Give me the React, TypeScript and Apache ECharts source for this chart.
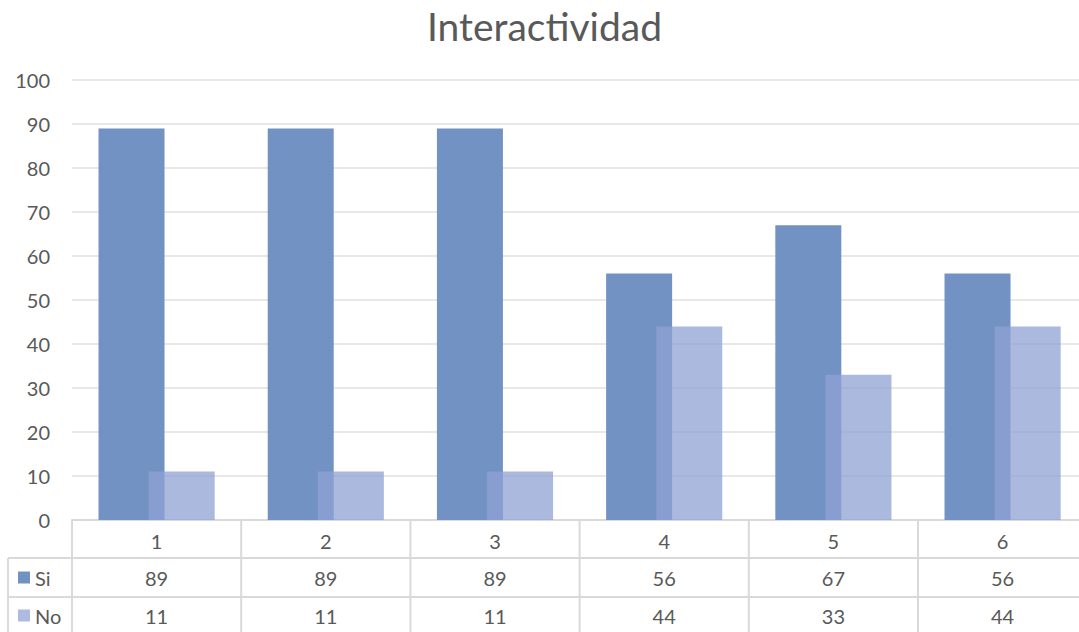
import React, { useEffect, useRef } from "react";
import * as echarts from "echarts";

const categories = ["1", "2", "3", "4", "5", "6"];
const siValues = [89, 89, 89, 56, 67, 56];
const noValues = [11, 11, 11, 44, 33, 44];
const seriesNames = ["Si", "No"];
const yTicks = { min: 0, max: 100, interval: 10 };
const titleText = "Interactividad";

const W = 1079;
const H = 632;
const GRID_LEFT = 72;
const GRID_TOP = 80;
const GRID_BOTTOM_Y = 520;
const CAT_W = 169.2;
const GRID_W = CAT_W * categories.length;
const CHART_W = GRID_LEFT + GRID_W + 10;
const ROW1 = 558;
const ROW2 = 597;
const TABLE_LEFT = 8;
const SI_COLOR = "#7292c3";
const NO_COLOR = "rgba(144,162,212,0.75)";
const NO_LEGEND = "#aebbe0";
const LINE = "#d9d9d9";
const TEXT = "#595959";
const FONT = "Lato, 'Open Sans', sans-serif";
const FS = 20;

export default function App() {
  const ref = useRef<HTMLDivElement>(null);
  useEffect(() => {
    if (!ref.current) return;
    const chart = echarts.init(ref.current, undefined, { renderer: "svg" });
    const graphics: any[] = [];
    [ROW1, ROW2].forEach((y) =>
      graphics.push({
        type: "line",
        shape: { x1: TABLE_LEFT, y1: y, x2: GRID_LEFT + GRID_W, y2: y },
        style: { stroke: LINE, lineWidth: 2 },
      })
    );
    graphics.push({
      type: "line",
      shape: { x1: TABLE_LEFT, y1: ROW1, x2: TABLE_LEFT, y2: H },
      style: { stroke: LINE, lineWidth: 2 },
    });
    for (let i = 0; i <= categories.length; i++) {
      const x = GRID_LEFT + i * CAT_W;
      graphics.push({
        type: "line",
        shape: { x1: x, y1: GRID_BOTTOM_Y, x2: x, y2: H },
        style: { stroke: LINE, lineWidth: 2 },
      });
    }
    const rows = [
      { name: seriesNames[0], vals: siValues, color: SI_COLOR, y: (ROW1 + ROW2) / 2 },
      { name: seriesNames[1], vals: noValues, color: NO_LEGEND, y: (ROW2 + H) / 2 + 1 },
    ];
    rows.forEach((r) => {
      graphics.push({
        type: "rect",
        shape: { x: 18, y: r.y - 6, width: 12, height: 12 },
        style: { fill: r.color },
      });
      graphics.push({
        type: "text",
        x: 35,
        y: r.y,
        style: { text: r.name, fill: TEXT, font: `${FS}px ${FONT}`, textVerticalAlign: "middle" },
      });
      r.vals.forEach((v, i) => {
        graphics.push({
          type: "text",
          x: GRID_LEFT + (i + 0.5) * CAT_W,
          y: r.y,
          style: {
            text: String(v),
            fill: TEXT,
            font: `${FS}px ${FONT}`,
            textAlign: "center",
            textVerticalAlign: "middle",
          },
        });
      });
    });

    chart.setOption({
      animation: false,
      title: {
        text: titleText,
        left: W / 2,
        textAlign: "center",
        top: 1,
        textStyle: { color: TEXT, fontSize: 39, fontWeight: "normal", fontFamily: FONT },
      },
      grid: { left: GRID_LEFT, top: GRID_TOP, width: GRID_W, height: GRID_BOTTOM_Y - GRID_TOP },
      xAxis: {
        type: "category",
        data: categories,
        axisLine: { lineStyle: { color: LINE, width: 2 } },
        axisTick: { show: false },
        axisLabel: { color: TEXT, fontSize: FS, fontFamily: FONT, margin: 11 },
      },
      yAxis: {
        type: "value",
        min: yTicks.min,
        max: yTicks.max,
        interval: yTicks.interval,
        axisLine: { show: false },
        axisTick: { show: false },
        axisLabel: { color: TEXT, fontSize: FS, fontFamily: FONT, margin: 22 },
        splitLine: { lineStyle: { color: "#e8e8e8", width: 2 } },
      },
      series: [
        {
          name: seriesNames[0],
          type: "bar",
          data: siValues,
          barWidth: 66,
          barGap: "-24%",
          itemStyle: { color: SI_COLOR },
        },
        {
          name: seriesNames[1],
          type: "bar",
          data: noValues,
          barWidth: 66,
          itemStyle: { color: NO_COLOR },
        },
      ],
      graphic: graphics,
    });
    return () => chart.dispose();
  }, []);
  return (
    <div
      style={{ position: "fixed", left: 0, top: 0, width: W, height: H, overflow: "hidden", background: "#fff" }}
    >
      <div ref={ref} style={{ width: CHART_W, height: H }} />
    </div>
  );
}
